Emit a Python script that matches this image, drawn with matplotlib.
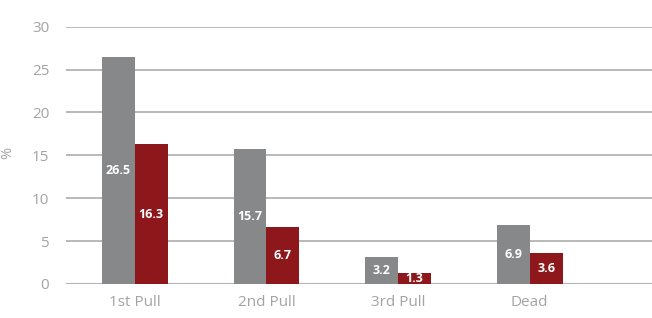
import matplotlib
matplotlib.use("Agg")
import matplotlib.pyplot as plt
import numpy as np

# Datos del gráfico
categorias = ["1st Pull", "2nd Pull", "3rd Pull", "Dead"]
serie_gris = [26.5, 15.7, 3.2, 6.9]
serie_roja = [16.3, 6.7, 1.3, 3.6]

color_gris = "#87888a"
color_rojo = "#8d171a"
color_texto = "#a3a3a3"
color_grid = "#b3b3b3"

plt.rcParams['font.family'] = ['Open Sans', 'DejaVu Sans']

fig = plt.figure(figsize=(6.52, 3.18), dpi=100)
ax = fig.add_axes([0.101, 0.107, 0.899, 0.809])

x = np.arange(len(categorias))
ancho = 0.25

barras_g = ax.bar(x - ancho / 2, serie_gris, ancho, color=color_gris, zorder=3)
barras_r = ax.bar(x + ancho / 2, serie_roja, ancho, color=color_rojo, zorder=3)

# Etiquetas de valores centradas dentro de las barras
for barras in (barras_g, barras_r):
    for b in barras:
        h = b.get_height()
        ax.text(b.get_x() + b.get_width() / 2, h / 2, f"{h:.1f}",
                ha="center", va="center", color="white",
                fontsize=9, fontweight="bold", zorder=4)

ax.set_ylim(0, 30)
ax.set_yticks(range(0, 31, 5))
ax.set_xlim(-0.525, 3.93)
ax.set_xticks(x)
ax.set_xticklabels(categorias)

ax.yaxis.grid(True, color=color_grid, linewidth=1.3, zorder=0)
ax.set_axisbelow(True)
for s in ax.spines.values():
    s.set_visible(False)
ax.axhline(0, color=color_grid, linewidth=1.5, zorder=2)

ax.tick_params(axis="both", length=0, colors=color_texto, labelsize=11)
ax.tick_params(axis="y", pad=12)
ax.tick_params(axis="x", pad=8)
ax.set_ylabel("%", color=color_texto, fontsize=10.5)
ax.yaxis.set_label_coords(-0.087, 0.51)

fig.savefig("out.png", dpi=100)
